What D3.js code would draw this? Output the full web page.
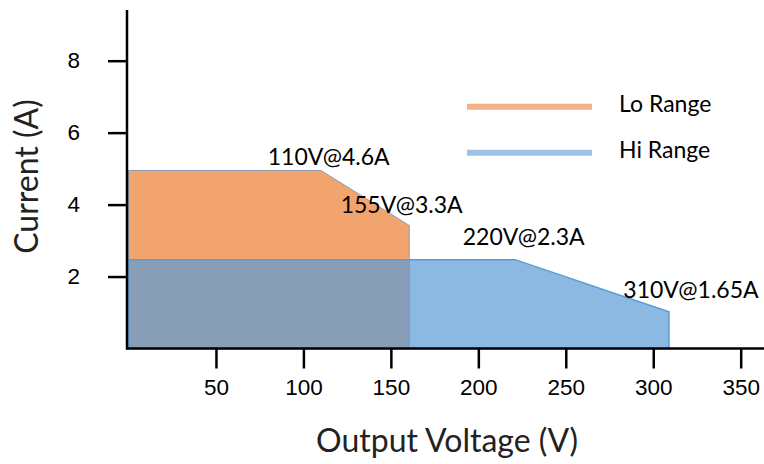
<!DOCTYPE html>
<html>
<head>
<meta charset="utf-8">
<script src="https://cdn.jsdelivr.net/npm/d3@7"></script>
<style>
  body { margin: 0; background: #fff; }
  svg { display: block; font-family: Lato, "Open Sans", sans-serif; }
</style>
</head>
<body>
<svg id="chart"></svg>
<script>
// outline of the lo range area (volts, amps)
const loVolts = [0, 0, 110, 160.5, 160.5];
const loAmps = [0, 4.95, 4.95, 3.42, 0];

// outline of the hi range area
const hiVolts = [0, 0, 221, 309, 309];
const hiAmps = [0, 2.47, 2.47, 1.02, 0];

// axis ticks
const voltTicks = [50, 100, 150, 200, 250, 300, 350];
const ampTicks = [2, 4, 6, 8];

// corner labels, anchored in data units
const noteText = ["110V@4.6A", "155V@3.3A", "220V@2.3A", "310V@1.65A"];
const noteVolts = [79.6, 121.3, 191.1, 282.9];
const noteAmps = [5.11, 3.78, 2.87, 1.39];

// legend entries
const seriesNames = ["Lo Range", "Hi Range"];
const seriesFill = ["#ED7D31", "#5B9BD5"];
const seriesKey = ["#F4B183", "#9DC3E6"];

const width = 764;
const height = 464;

const svg = d3.select("#chart")
    .attr("width", width)
    .attr("height", height);

// scales
const x = d3.scaleLinear().domain([0, 350]).range([128.5, 740.7]);
const y = d3.scaleLinear().domain([0, 8]).range([348.5, 60.7]);

// area polygons
const line = d3.line().x(d => x(d[0])).y(d => y(d[1]));
const lo = loVolts.map((v, i) => [v, loAmps[i]]);
const hi = hiVolts.map((v, i) => [v, hiAmps[i]]);

svg.append("path")
    .attr("d", line(lo) + "Z")
    .attr("fill", seriesFill[0])
    .attr("fill-opacity", 0.7)
    .attr("stroke", "#8a9bb3")
    .attr("stroke-width", 1);

svg.append("path")
    .attr("d", line(hi) + "Z")
    .attr("fill", seriesFill[1])
    .attr("fill-opacity", 0.7)
    .attr("stroke", "#5B9BD5")
    .attr("stroke-width", 1.5);

// axes, drawn with d3 axis generators then restyled
const xAxis = svg.append("g")
    .attr("transform", "translate(0," + y(0) + ")")
    .call(d3.axisBottom(x).tickValues(voltTicks).tickSize(20).tickPadding(11).tickSizeOuter(0));
xAxis.select(".domain").remove();
xAxis.selectAll(".tick line").attr("stroke", "#000").attr("stroke-width", 2.5);
xAxis.selectAll(".tick text")
    .attr("fill", "#000")
    .style("font-size", "22.5px");

const yAxis = svg.append("g")
    .attr("transform", "translate(" + (x(0) - 1.5) + ",0)")
    .call(d3.axisLeft(y).tickValues(ampTicks).tickSize(19).tickPadding(28).tickSizeOuter(0));
yAxis.select(".domain").remove();
yAxis.selectAll(".tick line").attr("stroke", "#000").attr("stroke-width", 2.5);
yAxis.selectAll(".tick text")
    .attr("fill", "#000")
    .style("font-size", "22.5px");

// axis lines
svg.append("line")
    .attr("x1", x(0) - 1.5).attr("x2", x(0) - 1.5)
    .attr("y1", 10).attr("y2", y(0) + 1)
    .attr("stroke", "#000").attr("stroke-width", 2.5);
svg.append("line")
    .attr("x1", x(0) - 2.5).attr("x2", width)
    .attr("y1", y(0)).attr("y2", y(0))
    .attr("stroke", "#000").attr("stroke-width", 2.5);

// corner labels
svg.append("g").selectAll("text")
    .data(noteText)
    .join("text")
    .attr("x", (d, i) => x(noteVolts[i]))
    .attr("y", (d, i) => y(noteAmps[i]))
    .attr("fill", "#000")
    .style("font-size", "23px")
    .text(d => d);

// legend
const legend = svg.append("g").selectAll("g")
    .data(seriesNames)
    .join("g")
    .attr("transform", (d, i) => "translate(0," + (106.7 + i * 46) + ")");
legend.append("line")
    .attr("x1", 467).attr("x2", 592)
    .attr("stroke", (d, i) => seriesKey[i])
    .attr("stroke-width", 6);
legend.append("text")
    .attr("x", 619)
    .attr("y", 5)
    .attr("fill", "#000")
    .style("font-size", "23px")
    .text(d => d);

// axis titles
svg.append("text")
    .attr("x", 447)
    .attr("y", 451.5)
    .attr("text-anchor", "middle")
    .attr("fill", "#222")
    .style("font-size", "32px")
    .text("Output Voltage (V)");

svg.append("text")
    .attr("transform", "translate(38,176.5) rotate(-90)")
    .attr("text-anchor", "middle")
    .attr("fill", "#222")
    .style("font-size", "32px")
    .text("Current (A)");
</script>
</body>
</html>
